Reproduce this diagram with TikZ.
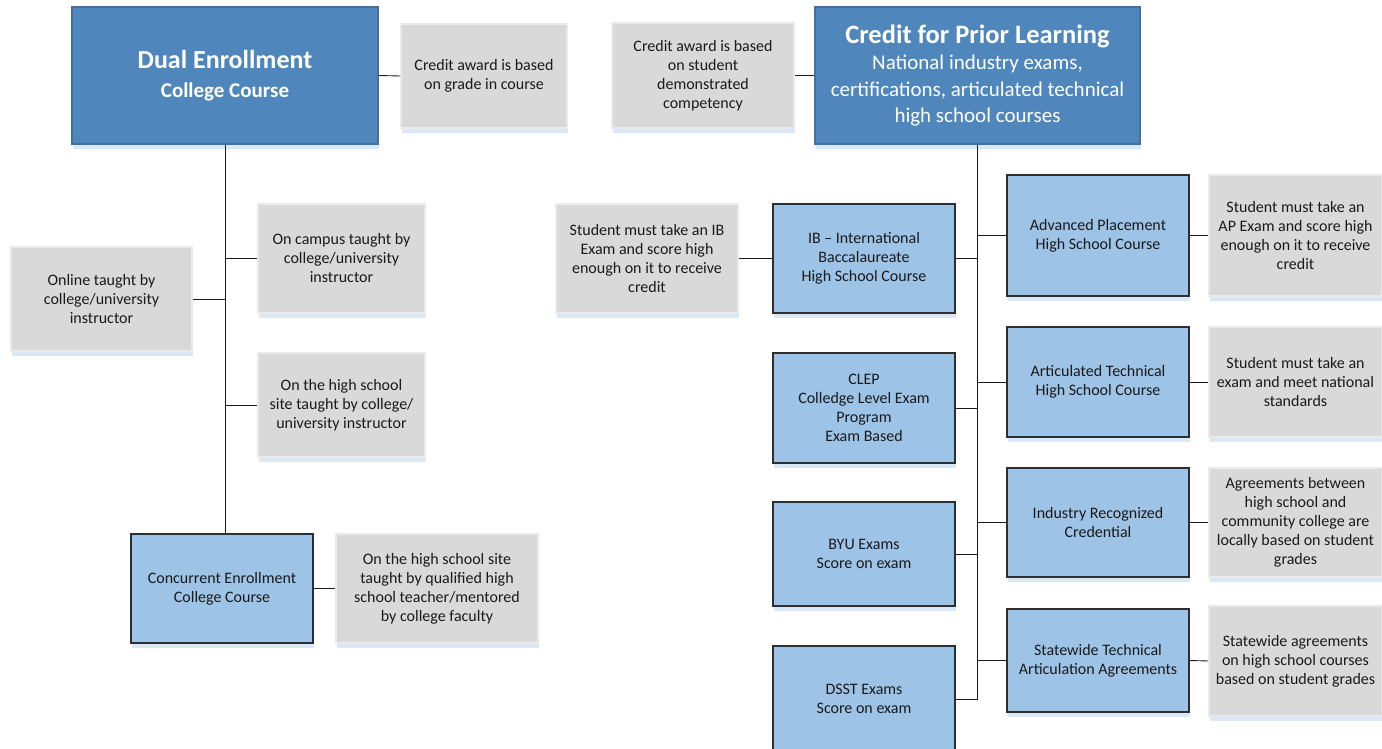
\documentclass[tikz,border=0pt]{standalone}
\usepackage{fontspec}
\setmainfont{Carlito}
\usetikzlibrary{shadows}

\definecolor{headblue}{HTML}{4F87BC}
\definecolor{headline}{HTML}{41719C}
\definecolor{boxblue}{HTML}{9DC3E6}
\definecolor{boxline}{HTML}{2E2E2E}
\definecolor{notegray}{HTML}{D9D9D9}
\definecolor{noteline}{HTML}{EAEAEA}
\definecolor{shadowblue}{HTML}{DAE7F5}
\definecolor{textdark}{HTML}{1A1A1A}

\tikzset{
  boxshadow/.style={drop shadow={shadow xshift=1pt, shadow yshift=-5pt, fill=shadowblue, opacity=1}},
  headbox/.style={boxshadow, rectangle, fill=headblue, draw=headline, line width=1.2pt,
    text=white, align=center, inner sep=0pt},
  coursebox/.style={boxshadow, rectangle, fill=boxblue, draw=boxline, line width=1.1pt,
    text=textdark, align=center, inner sep=0pt, font=\fontsize{16}{19}\selectfont},
  notebox/.style={boxshadow, rectangle, fill=notegray, draw=noteline, line width=1.4pt,
    text=textdark, align=center, inner sep=0pt, font=\fontsize{16}{19}\selectfont},
  conn/.style={draw=textdark, line width=0.9pt},
  dims/.style 2 args={minimum width=#1, minimum height=#2}
}

\begin{document}
\begin{tikzpicture}[x=1pt,y=-1pt]
\useasboundingbox[fill=white] (0,0) rectangle (1382,749);

% ---- Dual enrollment branch ----
\node[headbox, dims={306pt}{137pt}, font=\fontsize{21}{29}\selectfont\bfseries] (dual) at (225,75.5)
  {\fontsize{26}{29}\selectfont Dual Enrollment\\
   College Course};
\node[notebox, dims={166pt}{104pt}] (gradenote) at (484,76)
  {Credit award is based\\on grade in course};
\node[notebox, dims={167pt}{109pt}] (oncampus) at (341.5,258.5)
  {On campus taught by\\college/university\\instructor};
\node[notebox, dims={181pt}{104pt}] (online) at (101.5,299)
  {Online taught by\\college/university\\instructor};
\node[notebox, dims={167pt}{104pt}] (hssite) at (341.5,405)
  {On the high school\\site taught by college/\\university instructor};
\node[coursebox, dims={182pt}{109pt}] (conc) at (222,588.5)
  {Concurrent Enrollment\\College Course};
\node[notebox, dims={202pt}{109pt}] (concnote) at (437,588.5)
  {On the high school site\\taught by qualified high\\school teacher/mentored\\by college faculty};

% ---- Credit for prior learning branch ----
\node[notebox, dims={182pt}{105pt}] (compnote) at (703,75.5)
  {Credit award is based\\on student\\demonstrated\\competency};
\node[headbox, dims={325pt}{137pt}, font=\fontsize{21}{26.5}\selectfont] (cpl) at (977.5,75.5)
  {\fontsize{26.5}{27}\selectfont\bfseries Credit for Prior Learning\\
   National industry exams,\\certifications, articulated technical\\high school courses};

\node[notebox, dims={182pt}{109pt}] (ibnote) at (647,258.5)
  {Student must take an IB\\Exam and score high\\enough on it to receive\\credit};
\node[coursebox, dims={182pt}{109pt}] (ib) at (864,258.5)
  {IB -- International\\Baccalaureate\\High School Course};
\node[coursebox, dims={182pt}{110pt}] (clep) at (864,408)
  {CLEP\\Colledge Level Exam\\Program\\Exam Based};
\node[coursebox, dims={182pt}{104pt}] (byu) at (864,554)
  {BYU Exams\\Score on exam};
\node[coursebox, dims={182pt}{106pt}] (dsst) at (864,699)
  {DSST Exams\\Score on exam};

\node[coursebox, dims={182pt}{121pt}] (ap) at (1098,235.5)
  {Advanced Placement\\High School Course};
\node[notebox, dims={173pt}{121pt}] (apnote) at (1295.5,235.5)
  {Student must take an\\AP Exam and score high\\enough on it to receive\\credit};
\node[coursebox, dims={182pt}{110pt}] (art) at (1098,382)
  {Articulated Technical\\High School Course};
\node[notebox, dims={173pt}{110pt}] (artnote) at (1295.5,382)
  {Student must take an\\exam and meet national\\standards};
\node[coursebox, dims={182pt}{109pt}] (ind) at (1098,522.5)
  {Industry Recognized\\Credential};
\node[notebox, dims={173pt}{109pt}] (indnote) at (1295.5,522.5)
  {Agreements between\\high school and\\community college are\\locally based on student\\grades};
\node[coursebox, dims={182pt}{103pt}] (sw) at (1098,660.5)
  {Statewide Technical\\Articulation Agreements};
\node[notebox, dims={173pt}{110pt}] (swnote) at (1295.5,661)
  {Statewide agreements\\on high school courses\\based on student grades};

% ---- Connectors: dual enrollment ----
\draw[conn] (dual.east) -- (gradenote.west);
\draw[conn] (dual.south) -- (dual.south |- conc.north);
\draw[conn] (oncampus.west) -- (oncampus.west -| dual.south);
\draw[conn] (online.east) -- (online.east -| dual.south);
\draw[conn] (hssite.west) -- (hssite.west -| dual.south);
\draw[conn] (conc.east) -- (concnote.west);

% ---- Connectors: credit for prior learning ----
\draw[conn] (compnote.east) -- (cpl.west);
\draw[conn] (cpl.south) -- (cpl.south |- dsst.east);
\foreach \n in {ib,clep,byu,dsst}
  \draw[conn] (\n.east) -- (\n.east -| cpl.south);
\foreach \n in {ap,art,ind,sw}
  \draw[conn] (\n.west) -- (\n.west -| cpl.south);
\draw[conn] (ibnote.east) -- (ib.west);
\draw[conn] (ap.east) -- (apnote.west);
\draw[conn] (art.east) -- (artnote.west);
\draw[conn] (ind.east) -- (indnote.west);
\draw[conn] (sw.east) -- (swnote.west);
\end{tikzpicture}
\end{document}
